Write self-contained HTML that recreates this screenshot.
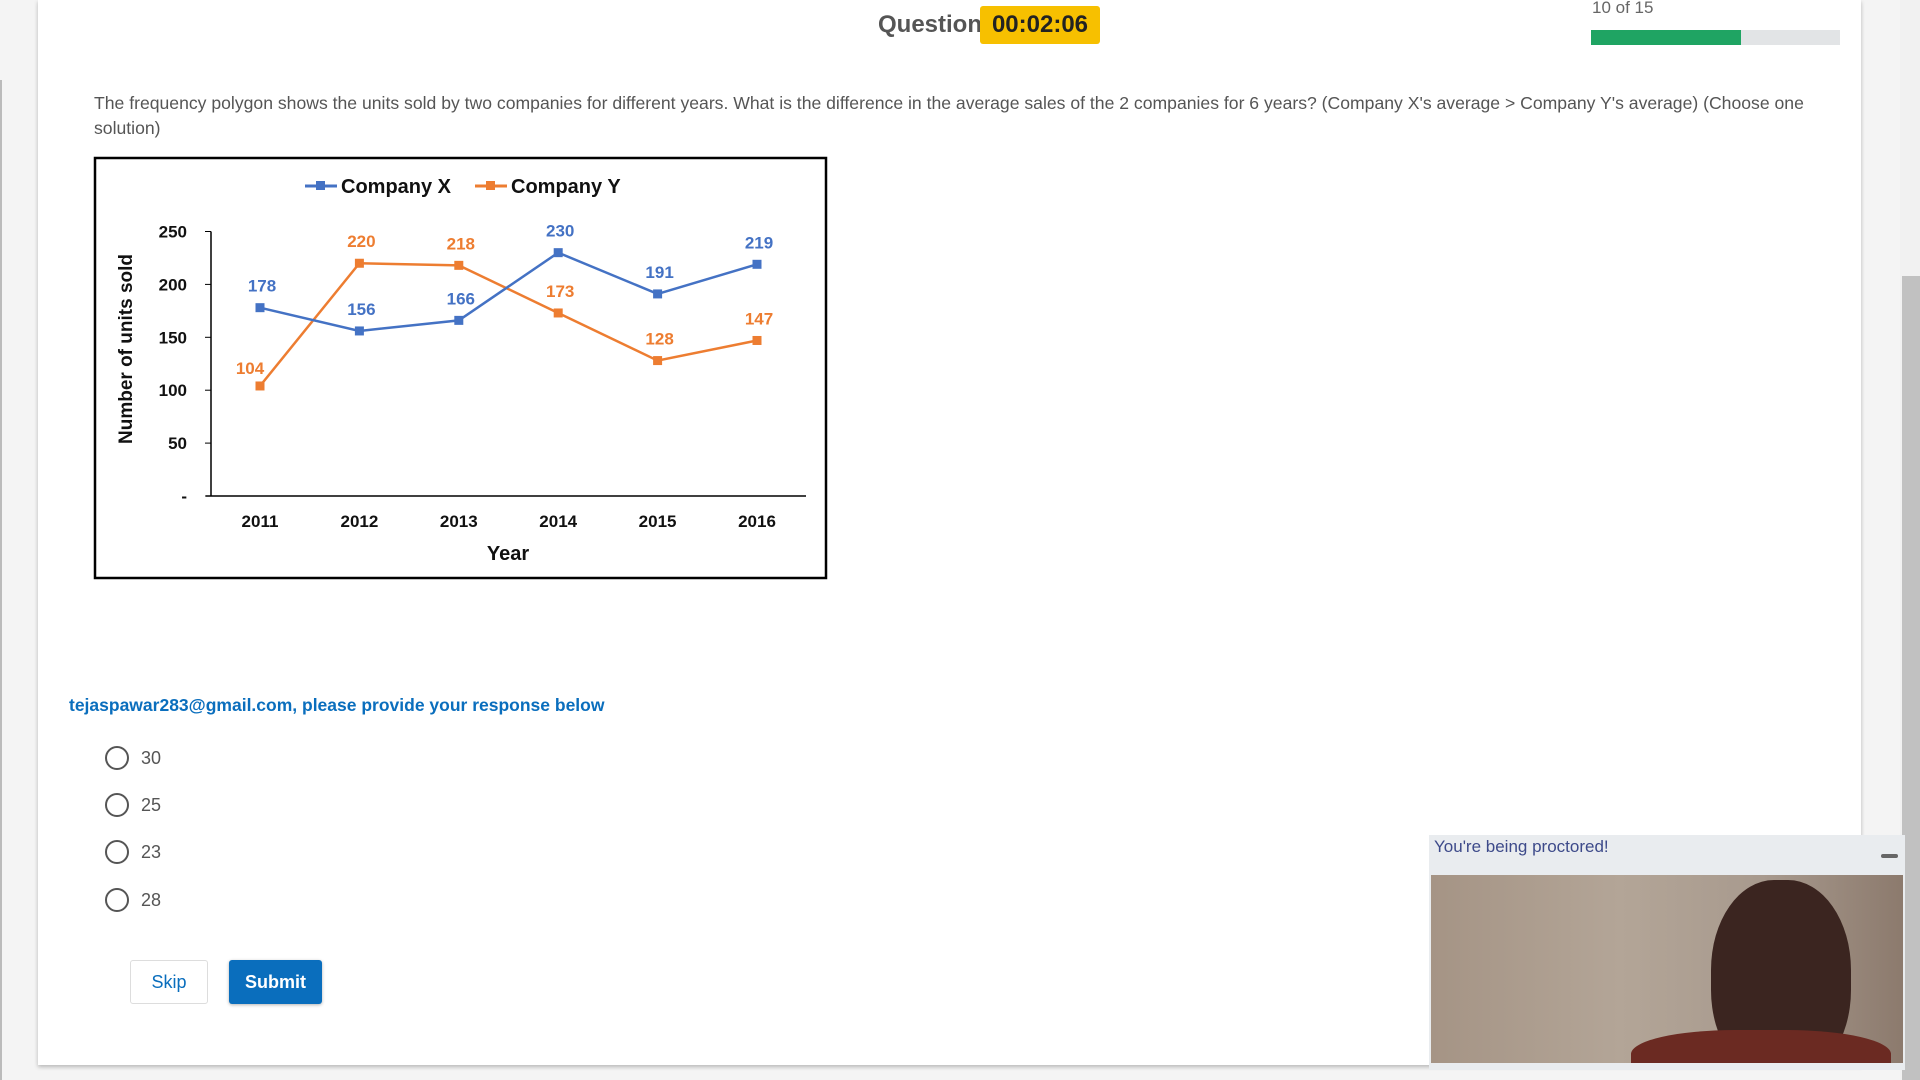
<!DOCTYPE html>
<html><head><meta charset="utf-8">
<style>
*{box-sizing:border-box;margin:0;padding:0}
body{width:1920px;height:1080px;overflow:hidden;background:#f4f4f4;font-family:"Liberation Sans",Arial,sans-serif;position:relative}
.abs{position:absolute}
</style></head><body>
<div class="abs" style="left:0;top:80px;width:2px;height:1000px;background:#bbb"></div>
<div class="abs" style="left:38px;top:0;width:1823px;height:1065px;background:#fff;box-shadow:0 2px 4px rgba(0,0,0,.25)"></div>
<div class="abs" style="left:1900px;top:0;width:20px;height:1080px;background:#f1f1f1"></div>
<div class="abs" style="left:1902px;top:276px;width:18px;height:804px;background:#c1c1c1"></div>

<div class="abs" style="left:878px;top:11px;font-size:24px;font-weight:bold;color:#555">Question</div>
<div class="abs" style="left:980px;top:6px;width:120px;height:38px;background:#f7c000;border-radius:3px;font-size:24px;font-weight:bold;color:#222;text-align:center;line-height:38px">00:02:06</div>
<div class="abs" style="left:1592px;top:-2px;font-size:17px;color:#666">10 of 15</div>
<div class="abs" style="left:1591px;top:30px;width:249px;height:15px;background:#e2e4e6"><div style="width:150px;height:15px;background:#1fa463"></div></div>

<div class="abs" style="left:94px;top:91px;width:1740px;font-size:17.6px;line-height:25px;color:#555">The frequency polygon shows the units sold by two companies for different years. What is the difference in the average sales of the 2 companies for 6 years? (Company X's average &gt; Company Y's average) (Choose one solution)</div>

<svg class="abs" style="left:0;top:0" width="900" height="600" id="chart">
<rect x="95" y="158" width="731" height="420" fill="#fff" stroke="#000" stroke-width="2.5"/>
<g font-family="Liberation Sans,Arial,sans-serif" font-weight="bold">
<line x1="305" y1="186" x2="337" y2="186" stroke="#4472c4" stroke-width="3"/>
<rect x="316" y="181" width="9" height="9" fill="#4472c4"/>
<text x="341" y="193" font-size="20" fill="#111">Company X</text>
<line x1="475" y1="186" x2="507" y2="186" stroke="#ed7d31" stroke-width="3"/>
<rect x="486" y="181" width="9" height="9" fill="#ed7d31"/>
<text x="511" y="193" font-size="20" fill="#111">Company Y</text>
<text transform="translate(132,349) rotate(-90)" text-anchor="middle" font-size="19" fill="#111">Number of units sold</text>
<text x="508" y="560" text-anchor="middle" font-size="20" fill="#111">Year</text>
</g>
</svg>

<div class="abs" style="left:69px;top:695px;font-size:17.5px;font-weight:bold;color:#0a6ebd">tejaspawar283@gmail.com, please provide your response below</div>
<div class="abs" style="left:105px;top:746px;height:24px;font-size:18px;color:#555;line-height:24px"><span style="display:inline-block;width:24px;height:24px;border:2px solid #555;border-radius:50%;vertical-align:top"></span><span style="margin-left:12px">30</span></div>
<div class="abs" style="left:105px;top:793px;height:24px;font-size:18px;color:#555;line-height:24px"><span style="display:inline-block;width:24px;height:24px;border:2px solid #555;border-radius:50%;vertical-align:top"></span><span style="margin-left:12px">25</span></div>
<div class="abs" style="left:105px;top:840px;height:24px;font-size:18px;color:#555;line-height:24px"><span style="display:inline-block;width:24px;height:24px;border:2px solid #555;border-radius:50%;vertical-align:top"></span><span style="margin-left:12px">23</span></div>
<div class="abs" style="left:105px;top:888px;height:24px;font-size:18px;color:#555;line-height:24px"><span style="display:inline-block;width:24px;height:24px;border:2px solid #555;border-radius:50%;vertical-align:top"></span><span style="margin-left:12px">28</span></div>

<div class="abs" style="left:130px;top:960px;width:78px;height:44px;border:1px solid #ddd;border-radius:3px;color:#0a6ebd;font-size:18px;text-align:center;line-height:42px">Skip</div>
<div class="abs" style="left:229px;top:960px;width:93px;height:44px;background:#0a6ebd;border-radius:3px;color:#fff;font-size:18px;font-weight:bold;text-align:center;line-height:44px;box-shadow:0 1px 3px rgba(0,0,0,.3)">Submit</div>

<div class="abs" style="left:1429px;top:835px;width:476px;height:235px;background:#e9ecef">
<div style="position:absolute;left:5px;top:2px;font-size:17px;color:#3d4a8a">You're being proctored!</div>
<div style="position:absolute;right:7px;top:19px;width:17px;height:4px;background:#666;border-radius:2px"></div>
<div style="position:absolute;left:2px;top:40px;width:472px;height:188px;background:linear-gradient(90deg,#a59485,#b3a597 40%,#a89a8e 70%,#8c7a6d);overflow:hidden">
<div style="position:absolute;left:280px;top:5px;width:140px;height:200px;border-radius:45%;background:#3b2520"></div>
<div style="position:absolute;left:200px;top:155px;width:260px;height:60px;border-radius:40%;background:#6b2a22"></div>
</div>
</div>

<script>
const years=["2011","2012","2013","2014","2015","2016"];
const seriesX=[178,156,166,230,191,219];
const seriesY=[104,220,218,173,128,147];
const yTicks=[0,50,100,150,200,250];
const yTickLabels=["-","50","100","150","200","250"];
const NS="http://www.w3.org/2000/svg";
const svg=document.getElementById('chart');
const x0=260,xStep=99.4,yBase=496,yScale=264.5/250;
const xs=i=>x0+i*xStep;
const ys=v=>yBase-v*yScale;
function mk(tag,attrs,txt){const e=document.createElementNS(NS,tag);for(const k in attrs)e.setAttribute(k,attrs[k]);if(txt!==undefined)e.textContent=txt;svg.appendChild(e);return e;}
const ax=mk('line',{x1:211,y1:ys(250),x2:211,y2:yBase,stroke:'#000','stroke-width':1.5});


const bx=mk('line',{x1:206,y1:yBase,x2:806,y2:yBase,stroke:'#000','stroke-width':1.5});


yTicks.forEach((t,i)=>{
 const tk=mk('line',{x1:205,y1:ys(t),x2:211,y2:ys(t),stroke:'#000','stroke-width':1});
 
 
 const tl=mk('text',{x:187,y:ys(t)+6,'text-anchor':'end','font-size':17,'font-weight':'bold','font-family':'Liberation Sans,Arial,sans-serif',fill:'#111'},yTickLabels[i]);
 
 
});
years.forEach((y,i)=>{
 const t=mk('text',{x:xs(i),y:527,'text-anchor':'middle','font-size':17,'font-weight':'bold','font-family':'Liberation Sans,Arial,sans-serif',fill:'#111'},y);
 
 
});
function series(vals,color,name){
 const pl=mk('polyline',{points:vals.map((v,i)=>xs(i)+','+ys(v)).join(' '),fill:'none',stroke:color,'stroke-width':2.5});
 
 
 vals.forEach((v,i)=>{
  const r=mk('rect',{x:xs(i)-4.5,y:ys(v)-4.5,width:9,height:9,fill:color});
  
  
  let lx=xs(i)+2,ly=ys(v)-16;
  if(name==='company-y'&&i===0){lx=xs(i)-10;ly=ys(v)-12;}
  const l=mk('text',{x:lx,y:ly,'text-anchor':'middle','font-size':17,'font-weight':'bold','font-family':'Liberation Sans,Arial,sans-serif',fill:color},String(v));
  
  
 });
}
series(seriesY,'#ed7d31','company-y');
series(seriesX,'#4472c4','company-x');
</script>
</body></html>
